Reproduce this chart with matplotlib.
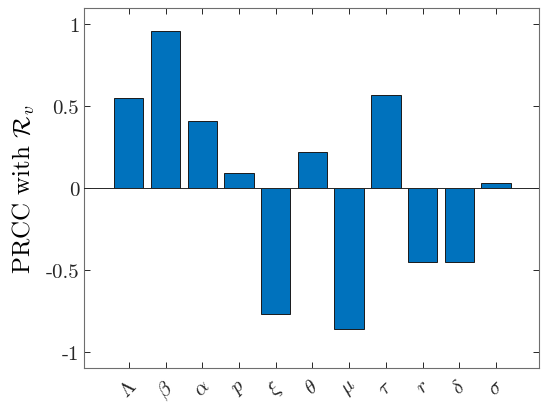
import matplotlib
matplotlib.use("Agg")
import matplotlib.pyplot as plt
import numpy as np

# PRCC values
params = [r"$\mathit{\Lambda}$", r"$\beta$", r"$\alpha$", r"$p$", r"$\xi$", r"$\theta$",
          r"$\mu$", r"$\tau$", r"$r$", r"$\delta$", r"$\sigma$"]
prcc = [0.55, 0.96, 0.41, 0.09, -0.77, 0.22, -0.86, 0.57, -0.45, -0.45, 0.03]
yticks = [-1, -0.5, 0, 0.5, 1]
ytick_labels = ["-1", "-0.5", "0", "0.5", "1"]

plt.rcParams["font.family"] = "serif"
plt.rcParams["font.serif"] = ["cmr10", "DejaVu Serif"]
plt.rcParams["mathtext.fontset"] = "cm"
plt.rcParams["axes.unicode_minus"] = False

fig = plt.figure(figsize=(5.5, 4.1), dpi=100)
ax = fig.add_axes([84 / 550, 1 - 369 / 410, (539 - 84) / 550, (369 - 9) / 410])

x = np.arange(1, len(prcc) + 1)
ax.bar(x, prcc, width=0.8, color="#0072BD", edgecolor="#1a1a1a", linewidth=0.7, zorder=2)
ax.axhline(0, color="#262626", linewidth=0.7, zorder=3)

ax.set_xlim(-0.22, 12.17)
ax.set_ylim(-1.1, 1.1)
ax.set_xticks(x)
ax.set_xticklabels(params, rotation=45, fontsize=15)
ax.set_yticks(yticks)
ax.set_yticklabels(ytick_labels, fontsize=15)
ax.set_ylabel(r"PRCC with $\mathcal{R}_v$", fontsize=18, labelpad=6)

ax.tick_params(direction="in", top=True, right=True, length=4, width=0.7,
               colors="#262626")
ax.tick_params(axis="x", pad=6)
for s in ax.spines.values():
    s.set_color("#6e6e6e")
    s.set_linewidth(0.8)

fig.savefig("out.png", dpi=100)
